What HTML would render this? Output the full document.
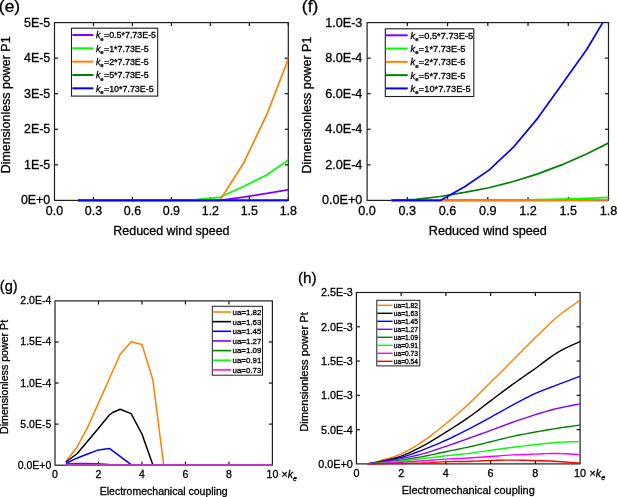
<!DOCTYPE html>
<html><head><meta charset="utf-8"><title>Figure</title>
<style>
html,body{margin:0;padding:0;background:#fff;}
body{width:617px;height:497px;overflow:hidden;font-family:"Liberation Sans", sans-serif;}
svg{display:block;will-change:transform;filter:blur(0.3px);}
</style></head><body>
<svg width="617" height="497" viewBox="0 0 617 497" font-family='"Liberation Sans", sans-serif' fill="#000"><style>text{stroke:#000;stroke-width:0.3px;}</style><defs><clipPath id="ce"><rect x="54.5" y="22.6" width="233.8" height="179.3"/></clipPath><clipPath id="cf"><rect x="367.1" y="22.6" width="241.4" height="179.3"/></clipPath><clipPath id="cg"><rect x="55" y="300.9" width="217.4" height="165.8"/></clipPath><clipPath id="ch"><rect x="356.4" y="292.5" width="223.7" height="172.9"/></clipPath></defs>
<line x1="93.47" y1="200.4" x2="93.47" y2="196.9" stroke="#111" stroke-width="1.2"/>
<line x1="93.47" y1="22.6" x2="93.47" y2="26.1" stroke="#111" stroke-width="1.2"/>
<line x1="132.43" y1="200.4" x2="132.43" y2="196.9" stroke="#111" stroke-width="1.2"/>
<line x1="132.43" y1="22.6" x2="132.43" y2="26.1" stroke="#111" stroke-width="1.2"/>
<line x1="171.4" y1="200.4" x2="171.4" y2="196.9" stroke="#111" stroke-width="1.2"/>
<line x1="171.4" y1="22.6" x2="171.4" y2="26.1" stroke="#111" stroke-width="1.2"/>
<line x1="210.37" y1="200.4" x2="210.37" y2="196.9" stroke="#111" stroke-width="1.2"/>
<line x1="210.37" y1="22.6" x2="210.37" y2="26.1" stroke="#111" stroke-width="1.2"/>
<line x1="249.33" y1="200.4" x2="249.33" y2="196.9" stroke="#111" stroke-width="1.2"/>
<line x1="249.33" y1="22.6" x2="249.33" y2="26.1" stroke="#111" stroke-width="1.2"/>
<line x1="288.3" y1="200.4" x2="288.3" y2="196.9" stroke="#111" stroke-width="1.2"/>
<line x1="288.3" y1="22.6" x2="288.3" y2="26.1" stroke="#111" stroke-width="1.2"/>
<line x1="54.5" y1="164.84" x2="58" y2="164.84" stroke="#111" stroke-width="1.2"/>
<line x1="288.3" y1="164.84" x2="284.8" y2="164.84" stroke="#111" stroke-width="1.2"/>
<line x1="54.5" y1="129.28" x2="58" y2="129.28" stroke="#111" stroke-width="1.2"/>
<line x1="288.3" y1="129.28" x2="284.8" y2="129.28" stroke="#111" stroke-width="1.2"/>
<line x1="54.5" y1="93.72" x2="58" y2="93.72" stroke="#111" stroke-width="1.2"/>
<line x1="288.3" y1="93.72" x2="284.8" y2="93.72" stroke="#111" stroke-width="1.2"/>
<line x1="54.5" y1="58.16" x2="58" y2="58.16" stroke="#111" stroke-width="1.2"/>
<line x1="288.3" y1="58.16" x2="284.8" y2="58.16" stroke="#111" stroke-width="1.2"/>
<rect x="54.5" y="22.6" width="233.8" height="177.8" fill="none" stroke="#1e1e1e" stroke-width="1.2"/>
<polyline points="78.12,200.4 101.73,200.4 125.35,200.4 148.96,200.4 172.58,200.4 196.2,200.4 219.81,200.4 243.43,197.2 267.05,193.29 290.66,189.38" fill="none" stroke="#8000ff" stroke-width="1.7" stroke-linejoin="round" clip-path="url(#ce)"/>
<polyline points="78.12,200.4 101.73,200.4 125.35,200.4 148.96,200.4 172.58,200.4 196.2,199.69 219.81,197.31 243.43,186.53 267.05,174.8 290.66,158.44" fill="none" stroke="#00ff00" stroke-width="1.7" stroke-linejoin="round" clip-path="url(#ce)"/>
<polyline points="78.12,200.4 101.73,200.4 125.35,200.4 148.96,200.4 172.58,200.4 196.2,200.4 219.81,200.4 243.43,163.42 267.05,113.99 290.66,52.83" fill="none" stroke="#ff8000" stroke-width="1.7" stroke-linejoin="round" clip-path="url(#ce)"/>
<polyline points="78.12,200.4 101.73,200.4 125.35,200.4 148.96,200.4 172.58,200.4 196.2,200.4 219.81,200.4 243.43,200.4 267.05,200.4 290.66,200.4" fill="none" stroke="#008000" stroke-width="1.7" stroke-linejoin="round" clip-path="url(#ce)"/>
<polyline points="78.12,200.4 101.73,200.4 125.35,200.4 148.96,200.4 172.58,200.4 196.2,200.4 219.81,200.4 243.43,200.4 267.05,200.4 290.66,200.4" fill="none" stroke="#0000ff" stroke-width="1.7" stroke-linejoin="round" clip-path="url(#ce)"/>
<line x1="407.33" y1="200.4" x2="407.33" y2="196.9" stroke="#111" stroke-width="1.2"/>
<line x1="407.33" y1="22.6" x2="407.33" y2="26.1" stroke="#111" stroke-width="1.2"/>
<line x1="447.57" y1="200.4" x2="447.57" y2="196.9" stroke="#111" stroke-width="1.2"/>
<line x1="447.57" y1="22.6" x2="447.57" y2="26.1" stroke="#111" stroke-width="1.2"/>
<line x1="487.8" y1="200.4" x2="487.8" y2="196.9" stroke="#111" stroke-width="1.2"/>
<line x1="487.8" y1="22.6" x2="487.8" y2="26.1" stroke="#111" stroke-width="1.2"/>
<line x1="528.03" y1="200.4" x2="528.03" y2="196.9" stroke="#111" stroke-width="1.2"/>
<line x1="528.03" y1="22.6" x2="528.03" y2="26.1" stroke="#111" stroke-width="1.2"/>
<line x1="568.27" y1="200.4" x2="568.27" y2="196.9" stroke="#111" stroke-width="1.2"/>
<line x1="568.27" y1="22.6" x2="568.27" y2="26.1" stroke="#111" stroke-width="1.2"/>
<line x1="608.5" y1="200.4" x2="608.5" y2="196.9" stroke="#111" stroke-width="1.2"/>
<line x1="608.5" y1="22.6" x2="608.5" y2="26.1" stroke="#111" stroke-width="1.2"/>
<line x1="367.1" y1="164.84" x2="370.6" y2="164.84" stroke="#111" stroke-width="1.2"/>
<line x1="608.5" y1="164.84" x2="605" y2="164.84" stroke="#111" stroke-width="1.2"/>
<line x1="367.1" y1="129.28" x2="370.6" y2="129.28" stroke="#111" stroke-width="1.2"/>
<line x1="608.5" y1="129.28" x2="605" y2="129.28" stroke="#111" stroke-width="1.2"/>
<line x1="367.1" y1="93.72" x2="370.6" y2="93.72" stroke="#111" stroke-width="1.2"/>
<line x1="608.5" y1="93.72" x2="605" y2="93.72" stroke="#111" stroke-width="1.2"/>
<line x1="367.1" y1="58.16" x2="370.6" y2="58.16" stroke="#111" stroke-width="1.2"/>
<line x1="608.5" y1="58.16" x2="605" y2="58.16" stroke="#111" stroke-width="1.2"/>
<rect x="367.1" y="22.6" width="241.4" height="177.8" fill="none" stroke="#1e1e1e" stroke-width="1.2"/>
<polyline points="391.48,200.4 415.87,200.4 440.25,200.4 464.64,200.4 489.02,200.4 513.4,200.4 537.79,200.4 562.17,200.4 586.55,200.4 610.94,200.4" fill="none" stroke="#8000ff" stroke-width="1.7" stroke-linejoin="round" clip-path="url(#cf)"/>
<polyline points="391.48,200.4 415.87,200.4 440.25,200.4 464.64,200.4 489.02,200.4 513.4,200.04 537.79,199.69 562.17,199.16 586.55,198.44 610.94,197.38" fill="none" stroke="#00ff00" stroke-width="1.7" stroke-linejoin="round" clip-path="url(#cf)"/>
<polyline points="391.48,200.4 415.87,200.4 440.25,200.4 464.64,200.4 489.02,200.4 513.4,200.4 537.79,200.31 562.17,200.22 586.55,200.04 610.94,199.87" fill="none" stroke="#ff8000" stroke-width="1.7" stroke-linejoin="round" clip-path="url(#cf)"/>
<polyline points="391.48,200.4 415.87,199.33 440.25,196.49 464.64,192.43 489.02,187.72 513.4,181.54 537.79,173.84 562.17,164.66 586.55,153.99 610.94,141.85" fill="none" stroke="#008000" stroke-width="1.7" stroke-linejoin="round" clip-path="url(#cf)"/>
<polyline points="391.48,200.4 415.87,200.4 440.25,200.4 464.64,186.71 489.02,170.17 513.4,147.24 537.79,118.08 562.17,83.94 586.55,49.8 610.94,8.91" fill="none" stroke="#0000ff" stroke-width="1.7" stroke-linejoin="round" clip-path="url(#cf)"/>
<line x1="98.48" y1="465.2" x2="98.48" y2="461.7" stroke="#111" stroke-width="1.2"/>
<line x1="98.48" y1="300.9" x2="98.48" y2="304.4" stroke="#111" stroke-width="1.2"/>
<line x1="141.96" y1="465.2" x2="141.96" y2="461.7" stroke="#111" stroke-width="1.2"/>
<line x1="141.96" y1="300.9" x2="141.96" y2="304.4" stroke="#111" stroke-width="1.2"/>
<line x1="185.44" y1="465.2" x2="185.44" y2="461.7" stroke="#111" stroke-width="1.2"/>
<line x1="185.44" y1="300.9" x2="185.44" y2="304.4" stroke="#111" stroke-width="1.2"/>
<line x1="228.92" y1="465.2" x2="228.92" y2="461.7" stroke="#111" stroke-width="1.2"/>
<line x1="228.92" y1="300.9" x2="228.92" y2="304.4" stroke="#111" stroke-width="1.2"/>
<line x1="55" y1="424.12" x2="58.5" y2="424.12" stroke="#111" stroke-width="1.2"/>
<line x1="272.4" y1="424.12" x2="268.9" y2="424.12" stroke="#111" stroke-width="1.2"/>
<line x1="55" y1="383.05" x2="58.5" y2="383.05" stroke="#111" stroke-width="1.2"/>
<line x1="272.4" y1="383.05" x2="268.9" y2="383.05" stroke="#111" stroke-width="1.2"/>
<line x1="55" y1="341.97" x2="58.5" y2="341.97" stroke="#111" stroke-width="1.2"/>
<line x1="272.4" y1="341.97" x2="268.9" y2="341.97" stroke="#111" stroke-width="1.2"/>
<rect x="55" y="300.9" width="217.4" height="164.3" fill="none" stroke="#1e1e1e" stroke-width="1.2"/>
<polyline points="65.87,461.7 76.74,447.5 87.61,427.4 120.22,354.3 131.09,341.8 141.96,344.5 152.83,379.8 163.7,465.1 272.4,465.2" fill="none" stroke="#ff8000" stroke-width="1.5" stroke-linejoin="round" clip-path="url(#cg)"/>
<polyline points="65.87,462 76.74,454 87.61,441.2 98.48,428.3 109.35,415 112.61,412.5 120.22,409.3 131.09,413.6 141.96,434 152.83,464.7 163.7,465.1 272.4,465.2" fill="none" stroke="#000" stroke-width="1.5" stroke-linejoin="round" clip-path="url(#cg)"/>
<polyline points="65.87,463.5 76.74,458.2 87.61,454 98.48,449.9 109.35,448.4 131.09,464.7 141.96,465.1 272.4,465.2" fill="none" stroke="#0000ff" stroke-width="1.5" stroke-linejoin="round" clip-path="url(#cg)"/>
<polyline points="65.87,464 76.74,463.5 87.61,463.4 98.48,463.8 109.35,464.6 120.22,465.1 272.4,465.2" fill="none" stroke="#8000ff" stroke-width="1.5" stroke-linejoin="round" clip-path="url(#cg)"/>
<polyline points="65.87,464.9 272.4,464.9" fill="none" stroke="#008000" stroke-width="1.5" stroke-linejoin="round" clip-path="url(#cg)"/>
<polyline points="65.87,464.9 272.4,464.9" fill="none" stroke="#00ff00" stroke-width="1.5" stroke-linejoin="round" clip-path="url(#cg)"/>
<polyline points="65.87,464.9 272.4,464.9" fill="none" stroke="#ff00ff" stroke-width="1.5" stroke-linejoin="round" clip-path="url(#cg)"/>
<line x1="401.14" y1="463.9" x2="401.14" y2="460.4" stroke="#111" stroke-width="1.2"/>
<line x1="401.14" y1="292.5" x2="401.14" y2="296" stroke="#111" stroke-width="1.2"/>
<line x1="445.88" y1="463.9" x2="445.88" y2="460.4" stroke="#111" stroke-width="1.2"/>
<line x1="445.88" y1="292.5" x2="445.88" y2="296" stroke="#111" stroke-width="1.2"/>
<line x1="490.62" y1="463.9" x2="490.62" y2="460.4" stroke="#111" stroke-width="1.2"/>
<line x1="490.62" y1="292.5" x2="490.62" y2="296" stroke="#111" stroke-width="1.2"/>
<line x1="535.36" y1="463.9" x2="535.36" y2="460.4" stroke="#111" stroke-width="1.2"/>
<line x1="535.36" y1="292.5" x2="535.36" y2="296" stroke="#111" stroke-width="1.2"/>
<line x1="356.4" y1="429.62" x2="359.9" y2="429.62" stroke="#111" stroke-width="1.2"/>
<line x1="580.1" y1="429.62" x2="576.6" y2="429.62" stroke="#111" stroke-width="1.2"/>
<line x1="356.4" y1="395.34" x2="359.9" y2="395.34" stroke="#111" stroke-width="1.2"/>
<line x1="580.1" y1="395.34" x2="576.6" y2="395.34" stroke="#111" stroke-width="1.2"/>
<line x1="356.4" y1="361.06" x2="359.9" y2="361.06" stroke="#111" stroke-width="1.2"/>
<line x1="580.1" y1="361.06" x2="576.6" y2="361.06" stroke="#111" stroke-width="1.2"/>
<line x1="356.4" y1="326.78" x2="359.9" y2="326.78" stroke="#111" stroke-width="1.2"/>
<line x1="580.1" y1="326.78" x2="576.6" y2="326.78" stroke="#111" stroke-width="1.2"/>
<rect x="356.4" y="292.5" width="223.7" height="171.4" fill="none" stroke="#1e1e1e" stroke-width="1.2"/>
<polyline points="367.58,463.9 368.67,463.65 370.07,463.36 371.78,462.98 373.8,462.51 376.13,461.91 378.77,461.16 381.85,460.27 385.4,459.28 389.26,458.16 393.27,456.9 397.28,455.48 401.14,453.89 404.87,452.11 408.6,450.15 412.32,448.03 416.05,445.78 419.78,443.4 423.51,440.93 427.24,438.34 430.97,435.59 434.69,432.74 438.42,429.79 442.15,426.77 445.88,423.72 449.61,420.64 453.34,417.49 457.06,414.28 460.79,411.01 464.52,407.67 468.25,404.25 471.98,400.74 475.71,397.14 479.44,393.46 483.16,389.74 486.89,386.02 490.62,382.31 494.35,378.62 498.08,374.92 501.81,371.21 505.53,367.49 509.26,363.76 512.99,360.03 516.72,356.28 520.45,352.5 524.17,348.71 527.9,344.94 531.63,341.21 535.36,337.54 539.09,333.9 542.82,330.25 546.55,326.63 550.27,323.11 554,319.71 557.73,316.5 561.72,313.31 566.02,310.1 570.31,307.02 574.3,304.23 577.67,301.9 580.1,300.18" fill="none" stroke="#ff8000" stroke-width="1.4" stroke-linejoin="round" clip-path="url(#ch)"/>
<polyline points="367.58,463.9 368.67,463.72 370.07,463.5 371.78,463.23 373.8,462.88 376.13,462.42 378.77,461.84 381.85,461.15 385.4,460.37 389.26,459.49 393.27,458.49 397.28,457.36 401.14,456.08 404.87,454.64 408.6,453.05 412.32,451.32 416.05,449.48 419.78,447.57 423.51,445.59 427.24,443.54 430.97,441.37 434.69,439.13 438.42,436.83 442.15,434.49 445.88,432.16 449.61,429.82 453.34,427.48 457.06,425.1 460.79,422.68 464.52,420.19 468.25,417.62 471.98,414.95 475.71,412.19 479.44,409.36 483.16,406.5 486.89,403.64 490.62,400.82 494.35,398.03 498.08,395.23 501.81,392.43 505.53,389.64 509.26,386.88 512.99,384.16 516.72,381.5 520.45,378.88 524.17,376.28 527.9,373.69 531.63,371.09 535.36,368.46 539.09,365.74 542.82,362.93 546.55,360.1 550.27,357.34 554,354.73 557.73,352.35 561.72,350.12 566.02,347.97 570.31,345.96 574.3,344.18 577.67,342.7 580.1,341.59" fill="none" stroke="#000" stroke-width="1.4" stroke-linejoin="round" clip-path="url(#ch)"/>
<polyline points="367.58,463.9 368.67,463.75 370.07,463.56 371.78,463.33 373.8,463.04 376.13,462.66 378.77,462.19 381.85,461.62 385.4,460.97 389.26,460.24 393.27,459.43 397.28,458.52 401.14,457.52 404.87,456.41 408.6,455.19 412.32,453.88 416.05,452.5 419.78,451.08 423.51,449.64 427.24,448.18 430.97,446.68 434.69,445.14 438.42,443.55 442.15,441.92 445.88,440.25 449.61,438.52 453.34,436.75 457.06,434.92 460.79,433.07 464.52,431.18 468.25,429.28 471.98,427.34 475.71,425.37 479.44,423.36 483.16,421.34 486.89,419.31 490.62,417.28 494.35,415.23 498.08,413.16 501.81,411.08 505.53,409 509.26,406.95 512.99,404.94 516.72,402.94 520.45,400.93 524.17,398.95 527.9,397.02 531.63,395.17 535.36,393.42 539.09,391.8 542.82,390.3 546.55,388.87 550.27,387.49 554,386.12 557.73,384.71 561.72,383.19 566.02,381.57 570.31,379.95 574.3,378.46 577.67,377.19 580.1,376.28" fill="none" stroke="#0000ff" stroke-width="1.4" stroke-linejoin="round" clip-path="url(#ch)"/>
<polyline points="367.58,463.9 368.67,463.78 370.07,463.64 371.78,463.46 373.8,463.22 376.13,462.92 378.77,462.53 381.85,462.04 385.4,461.45 389.26,460.8 393.27,460.1 397.28,459.37 401.14,458.62 404.87,457.88 408.6,457.12 412.32,456.32 416.05,455.49 419.78,454.59 423.51,453.62 427.24,452.55 430.97,451.4 434.69,450.2 438.42,448.95 442.15,447.68 445.88,446.42 449.61,445.15 453.34,443.85 457.06,442.53 460.79,441.2 464.52,439.87 468.25,438.53 471.98,437.2 475.71,435.86 479.44,434.51 483.16,433.16 486.89,431.81 490.62,430.44 494.35,429.06 498.08,427.66 501.81,426.26 505.53,424.86 509.26,423.48 512.99,422.15 516.72,420.84 520.45,419.55 524.17,418.29 527.9,417.05 531.63,415.84 535.36,414.67 539.09,413.53 542.82,412.42 546.55,411.33 550.27,410.29 554,409.3 557.73,408.37 561.72,407.46 566.02,406.58 570.31,405.74 574.3,405 577.67,404.37 580.1,403.91" fill="none" stroke="#8000ff" stroke-width="1.4" stroke-linejoin="round" clip-path="url(#ch)"/>
<polyline points="367.58,463.9 368.67,463.81 370.07,463.7 371.78,463.56 373.8,463.38 376.13,463.15 378.77,462.87 381.85,462.52 385.4,462.12 389.26,461.67 393.27,461.18 397.28,460.66 401.14,460.13 404.87,459.58 408.6,459 412.32,458.4 416.05,457.77 419.78,457.11 423.51,456.43 427.24,455.7 430.97,454.92 434.69,454.12 438.42,453.3 442.15,452.49 445.88,451.7 449.61,450.93 453.34,450.18 457.06,449.44 460.79,448.68 464.52,447.91 468.25,447.1 471.98,446.26 475.71,445.38 479.44,444.48 483.16,443.57 486.89,442.66 490.62,441.76 494.35,440.84 498.08,439.91 501.81,438.98 505.53,438.07 509.26,437.18 512.99,436.34 516.72,435.55 520.45,434.8 524.17,434.08 527.9,433.38 531.63,432.7 535.36,432.02 539.09,431.35 542.82,430.7 546.55,430.06 550.27,429.44 554,428.84 557.73,428.25 561.72,427.65 566.02,427.04 570.31,426.44 574.3,425.89 577.67,425.43 580.1,425.1" fill="none" stroke="#008000" stroke-width="1.4" stroke-linejoin="round" clip-path="url(#ch)"/>
<polyline points="367.58,463.9 368.67,463.84 370.07,463.78 371.78,463.69 373.8,463.58 376.13,463.42 378.77,463.21 381.85,462.94 385.4,462.6 389.26,462.22 393.27,461.82 397.28,461.42 401.14,461.02 404.87,460.64 408.6,460.25 412.32,459.86 416.05,459.46 419.78,459.05 423.51,458.62 427.24,458.17 430.97,457.7 434.69,457.22 438.42,456.73 442.15,456.26 445.88,455.81 449.61,455.39 453.34,455 457.06,454.63 460.79,454.25 464.52,453.85 468.25,453.41 471.98,452.94 475.71,452.43 479.44,451.91 483.16,451.38 486.89,450.85 490.62,450.33 494.35,449.81 498.08,449.28 501.81,448.75 505.53,448.23 509.26,447.73 512.99,447.24 516.72,446.77 520.45,446.33 524.17,445.89 527.9,445.46 531.63,445.05 535.36,444.63 539.09,444.21 542.82,443.78 546.55,443.35 550.27,442.95 554,442.59 557.73,442.3 561.72,442.09 566.02,441.93 570.31,441.82 574.3,441.73 577.67,441.67 580.1,441.62" fill="none" stroke="#00ff00" stroke-width="1.4" stroke-linejoin="round" clip-path="url(#ch)"/>
<polyline points="367.58,463.9 368.67,463.87 370.07,463.83 371.78,463.78 373.8,463.71 376.13,463.61 378.77,463.49 381.85,463.32 385.4,463.12 389.26,462.9 393.27,462.66 397.28,462.42 401.14,462.19 404.87,461.97 408.6,461.75 412.32,461.53 416.05,461.3 419.78,461.06 423.51,460.81 427.24,460.54 430.97,460.25 434.69,459.94 438.42,459.64 442.15,459.35 445.88,459.1 449.61,458.89 453.34,458.7 457.06,458.54 460.79,458.38 464.52,458.2 468.25,458 471.98,457.78 475.71,457.53 479.44,457.28 483.16,457.02 486.89,456.76 490.62,456.5 494.35,456.23 498.08,455.95 501.81,455.66 505.53,455.39 509.26,455.14 512.99,454.92 516.72,454.74 520.45,454.58 524.17,454.45 527.9,454.33 531.63,454.21 535.36,454.1 539.09,453.96 542.82,453.81 546.55,453.66 550.27,453.54 554,453.47 557.73,453.48 561.72,453.59 566.02,453.8 570.31,454.06 574.3,454.32 577.67,454.56 580.1,454.71" fill="none" stroke="#ff00ff" stroke-width="1.4" stroke-linejoin="round" clip-path="url(#ch)"/>
<polyline points="367.58,463.9 368.67,463.89 370.07,463.87 371.78,463.85 373.8,463.82 376.13,463.8 378.77,463.76 381.85,463.73 385.4,463.69 389.26,463.65 393.27,463.6 397.28,463.55 401.14,463.49 404.87,463.43 408.6,463.37 412.32,463.31 416.05,463.24 419.78,463.14 423.51,463.01 427.24,462.83 430.97,462.6 434.69,462.34 438.42,462.09 442.15,461.87 445.88,461.71 449.61,461.61 453.34,461.56 457.06,461.55 460.79,461.54 464.52,461.51 468.25,461.43 471.98,461.3 475.71,461.14 479.44,460.96 483.16,460.77 486.89,460.6 490.62,460.47 494.35,460.37 498.08,460.28 501.81,460.21 505.53,460.16 509.26,460.13 512.99,460.13 516.72,460.16 520.45,460.22 524.17,460.3 527.9,460.39 531.63,460.5 535.36,460.61 539.09,460.72 542.82,460.82 546.55,460.94 550.27,461.07 554,461.24 557.73,461.43 561.72,461.69 566.02,462.02 570.31,462.37 574.3,462.72 577.67,463.01 580.1,463.21" fill="none" stroke="#ff0000" stroke-width="1.4" stroke-linejoin="round" clip-path="url(#ch)"/>
<text x="-1.1" y="12.4" font-size="16.6" text-anchor="start" transform="scale(1.05,1)">(e)</text>
<text x="287.5" y="12.4" font-size="16.6" text-anchor="start" transform="scale(1.05,1)">(f)</text>
<text x="-0.2" y="291.1" font-size="14.6" text-anchor="start">(g)</text>
<text x="298" y="283.2" font-size="15.3" text-anchor="start">(h)</text>
<text x="50.3" y="204.4" font-size="12.45" text-anchor="end">0E+0</text>
<text x="50.3" y="168.84" font-size="12.45" text-anchor="end">1E-5</text>
<text x="50.3" y="133.28" font-size="12.45" text-anchor="end">2E-5</text>
<text x="50.3" y="97.72" font-size="12.45" text-anchor="end">3E-5</text>
<text x="50.3" y="62.16" font-size="12.45" text-anchor="end">4E-5</text>
<text x="50.3" y="26.6" font-size="12.45" text-anchor="end">5E-5</text>
<text x="54.5" y="214.7" font-size="12.45" text-anchor="middle">0.0</text>
<text x="93.47" y="214.7" font-size="12.45" text-anchor="middle">0.3</text>
<text x="132.43" y="214.7" font-size="12.45" text-anchor="middle">0.6</text>
<text x="171.4" y="214.7" font-size="12.45" text-anchor="middle">0.9</text>
<text x="210.37" y="214.7" font-size="12.45" text-anchor="middle">1.2</text>
<text x="249.33" y="214.7" font-size="12.45" text-anchor="middle">1.5</text>
<text x="288.3" y="214.7" font-size="12.45" text-anchor="middle">1.8</text>
<text x="171.4" y="235" font-size="12.45" text-anchor="middle">Reduced wind speed</text>
<text x="10.3" y="104.9" font-size="12.45" text-anchor="middle" transform="rotate(-90 10.3 104.9)">Dimensionless power P1</text>
<text x="362.4" y="204.3" font-size="12.65" text-anchor="end">0.0E+0</text>
<text x="362.4" y="168.74" font-size="12.65" text-anchor="end">2.0E-4</text>
<text x="362.4" y="133.18" font-size="12.65" text-anchor="end">4.0E-4</text>
<text x="362.4" y="97.62" font-size="12.65" text-anchor="end">6.0E-4</text>
<text x="362.4" y="62.06" font-size="12.65" text-anchor="end">8.0E-4</text>
<text x="362.4" y="26.5" font-size="12.65" text-anchor="end">1.0E-3</text>
<text x="367.1" y="214.7" font-size="12.65" text-anchor="middle">0.0</text>
<text x="407.33" y="214.7" font-size="12.65" text-anchor="middle">0.3</text>
<text x="447.57" y="214.7" font-size="12.65" text-anchor="middle">0.6</text>
<text x="487.8" y="214.7" font-size="12.65" text-anchor="middle">0.9</text>
<text x="528.03" y="214.7" font-size="12.65" text-anchor="middle">1.2</text>
<text x="568.27" y="214.7" font-size="12.65" text-anchor="middle">1.5</text>
<text x="608.5" y="214.7" font-size="12.65" text-anchor="middle">1.8</text>
<text x="487.8" y="235" font-size="12.65" text-anchor="middle">Reduced wind speed</text>
<text x="310.7" y="105.1" font-size="12.45" text-anchor="middle" transform="rotate(-90 310.7 105.1)">Dimensionless power P1</text>
<text x="51.3" y="468.65" font-size="10.5" text-anchor="end">0.0E+0</text>
<text x="51.3" y="427.57" font-size="10.5" text-anchor="end">5.0E-5</text>
<text x="51.3" y="386.5" font-size="10.5" text-anchor="end">1.0E-4</text>
<text x="51.3" y="345.42" font-size="10.5" text-anchor="end">1.5E-4</text>
<text x="51.3" y="304.35" font-size="10.5" text-anchor="end">2.0E-4</text>
<text x="55" y="477.6" font-size="10.5" text-anchor="middle">0</text>
<text x="98.48" y="477.6" font-size="10.5" text-anchor="middle">2</text>
<text x="141.96" y="477.6" font-size="10.5" text-anchor="middle">4</text>
<text x="185.44" y="477.6" font-size="10.5" text-anchor="middle">6</text>
<text x="228.92" y="477.6" font-size="10.5" text-anchor="middle">8</text>
<text x="272.4" y="477.6" font-size="10.5" text-anchor="middle">10</text>
<text x="281.5" y="477.6" font-size="10.5" text-anchor="start">&#215;<tspan font-style="italic">k</tspan><tspan font-style="italic" font-size="7" dy="3.3">e</tspan></text>
<text x="163.7" y="494.5" font-size="10.5" text-anchor="middle">Electromechanical coupling</text>
<text x="8.1" y="376.9" font-size="10.65" text-anchor="middle" transform="rotate(-90 8.1 376.9)">Dimensionless power Pt</text>
<text x="352.8" y="467.8" font-size="10.8" text-anchor="end">0.0E+0</text>
<text x="352.8" y="433.52" font-size="10.8" text-anchor="end">5.0E-4</text>
<text x="352.8" y="399.24" font-size="10.8" text-anchor="end">1.0E-3</text>
<text x="352.8" y="364.96" font-size="10.8" text-anchor="end">1.5E-3</text>
<text x="352.8" y="330.68" font-size="10.8" text-anchor="end">2.0E-3</text>
<text x="352.8" y="296.4" font-size="10.8" text-anchor="end">2.5E-3</text>
<text x="356.4" y="477" font-size="10.8" text-anchor="middle">0</text>
<text x="401.14" y="477" font-size="10.8" text-anchor="middle">2</text>
<text x="445.88" y="477" font-size="10.8" text-anchor="middle">4</text>
<text x="490.62" y="477" font-size="10.8" text-anchor="middle">6</text>
<text x="535.36" y="477" font-size="10.8" text-anchor="middle">8</text>
<text x="580.1" y="477" font-size="10.8" text-anchor="middle">10</text>
<text x="589.5" y="477" font-size="10.8" text-anchor="start">&#215;<tspan font-style="italic">k</tspan><tspan font-style="italic" font-size="7" dy="3.3">e</tspan></text>
<text x="468.25" y="494.2" font-size="10.93" text-anchor="middle">Electromechanical coupling</text>
<text x="308" y="372" font-size="11.15" text-anchor="middle" transform="rotate(-90 308 372)">Dimensionless power Pt</text>
<rect x="71.5" y="28.2" width="86.2" height="67.9" fill="#fff" stroke="#1e1e1e" stroke-width="1.1"/>
<line x1="72.3" y1="35" x2="93.4" y2="35" stroke="#8000ff" stroke-width="2"/>
<text x="95.5" y="38.45" font-size="8.9" text-anchor="start"><tspan font-style="italic" dx="0.4">k</tspan><tspan font-size="6" dy="2.3">e</tspan><tspan dy="-2.3" dx="0.3">=0.5*7.73E-5</tspan></text>
<line x1="72.3" y1="48.33" x2="93.4" y2="48.33" stroke="#00ff00" stroke-width="2"/>
<text x="95.5" y="51.78" font-size="8.9" text-anchor="start"><tspan font-style="italic" dx="0.4">k</tspan><tspan font-size="6" dy="2.3">e</tspan><tspan dy="-2.3" dx="0.3">=1*7.73E-5</tspan></text>
<line x1="72.3" y1="61.66" x2="93.4" y2="61.66" stroke="#ff8000" stroke-width="2"/>
<text x="95.5" y="65.11" font-size="8.9" text-anchor="start"><tspan font-style="italic" dx="0.4">k</tspan><tspan font-size="6" dy="2.3">e</tspan><tspan dy="-2.3" dx="0.3">=2*7.73E-5</tspan></text>
<line x1="72.3" y1="74.99" x2="93.4" y2="74.99" stroke="#008000" stroke-width="2"/>
<text x="95.5" y="78.44" font-size="8.9" text-anchor="start"><tspan font-style="italic" dx="0.4">k</tspan><tspan font-size="6" dy="2.3">e</tspan><tspan dy="-2.3" dx="0.3">=5*7.73E-5</tspan></text>
<line x1="72.3" y1="88.32" x2="93.4" y2="88.32" stroke="#0000ff" stroke-width="2"/>
<text x="95.5" y="91.77" font-size="8.9" text-anchor="start"><tspan font-style="italic" dx="0.4">k</tspan><tspan font-size="6" dy="2.3">e</tspan><tspan dy="-2.3" dx="0.3">=10*7.73E-5</tspan></text>
<rect x="385.3" y="28.8" width="88.5" height="67.7" fill="#fff" stroke="#1e1e1e" stroke-width="1.1"/>
<line x1="385.8" y1="35.3" x2="407.7" y2="35.3" stroke="#8000ff" stroke-width="2"/>
<text x="410.2" y="38.75" font-size="9.25" text-anchor="start"><tspan font-style="italic" dx="0.4">k</tspan><tspan font-size="6" dy="2.3">e</tspan><tspan dy="-2.3" dx="0.3">=0.5*7.73E-5</tspan></text>
<line x1="385.8" y1="48.58" x2="407.7" y2="48.58" stroke="#00ff00" stroke-width="2"/>
<text x="410.2" y="52.03" font-size="9.25" text-anchor="start"><tspan font-style="italic" dx="0.4">k</tspan><tspan font-size="6" dy="2.3">e</tspan><tspan dy="-2.3" dx="0.3">=1*7.73E-5</tspan></text>
<line x1="385.8" y1="61.86" x2="407.7" y2="61.86" stroke="#ff8000" stroke-width="2"/>
<text x="410.2" y="65.31" font-size="9.25" text-anchor="start"><tspan font-style="italic" dx="0.4">k</tspan><tspan font-size="6" dy="2.3">e</tspan><tspan dy="-2.3" dx="0.3">=2*7.73E-5</tspan></text>
<line x1="385.8" y1="75.14" x2="407.7" y2="75.14" stroke="#008000" stroke-width="2"/>
<text x="410.2" y="78.59" font-size="9.25" text-anchor="start"><tspan font-style="italic" dx="0.4">k</tspan><tspan font-size="6" dy="2.3">e</tspan><tspan dy="-2.3" dx="0.3">=5*7.73E-5</tspan></text>
<line x1="385.8" y1="88.42" x2="407.7" y2="88.42" stroke="#0000ff" stroke-width="2"/>
<text x="410.2" y="91.87" font-size="9.25" text-anchor="start"><tspan font-style="italic" dx="0.4">k</tspan><tspan font-size="6" dy="2.3">e</tspan><tspan dy="-2.3" dx="0.3">=10*7.73E-5</tspan></text>
<rect x="212.3" y="306.3" width="50.2" height="68.9" fill="#fff" stroke="#1e1e1e" stroke-width="1"/>
<line x1="212.7" y1="312" x2="231" y2="312" stroke="#ff8000" stroke-width="1.6"/>
<text x="232.5" y="314.86" font-size="7.95" text-anchor="start">ua=1.82</text>
<line x1="212.7" y1="321.65" x2="231" y2="321.65" stroke="#000" stroke-width="1.6"/>
<text x="232.5" y="324.51" font-size="7.95" text-anchor="start">ua=1.63</text>
<line x1="212.7" y1="331.3" x2="231" y2="331.3" stroke="#0000ff" stroke-width="1.6"/>
<text x="232.5" y="334.16" font-size="7.95" text-anchor="start">ua=1.45</text>
<line x1="212.7" y1="340.95" x2="231" y2="340.95" stroke="#8000ff" stroke-width="1.6"/>
<text x="232.5" y="343.81" font-size="7.95" text-anchor="start">ua=1.27</text>
<line x1="212.7" y1="350.6" x2="231" y2="350.6" stroke="#008000" stroke-width="1.6"/>
<text x="232.5" y="353.46" font-size="7.95" text-anchor="start">ua=1.09</text>
<line x1="212.7" y1="360.25" x2="231" y2="360.25" stroke="#00ff00" stroke-width="1.6"/>
<text x="232.5" y="363.11" font-size="7.95" text-anchor="start">ua=0.91</text>
<line x1="212.7" y1="369.9" x2="231" y2="369.9" stroke="#ff00ff" stroke-width="1.6"/>
<text x="232.5" y="372.76" font-size="7.95" text-anchor="start">ua=0.73</text>
<rect x="376.8" y="300.3" width="43" height="65.6" fill="#fff" stroke="#1e1e1e" stroke-width="1"/>
<line x1="377.2" y1="305.3" x2="392.6" y2="305.3" stroke="#ff8000" stroke-width="1.4"/>
<text x="393.8" y="307.69" font-size="6.65" text-anchor="start">ua=1.82</text>
<line x1="377.2" y1="313.3" x2="392.6" y2="313.3" stroke="#000" stroke-width="1.4"/>
<text x="393.8" y="315.69" font-size="6.65" text-anchor="start">ua=1.63</text>
<line x1="377.2" y1="321.3" x2="392.6" y2="321.3" stroke="#0000ff" stroke-width="1.4"/>
<text x="393.8" y="323.69" font-size="6.65" text-anchor="start">ua=1.45</text>
<line x1="377.2" y1="329.3" x2="392.6" y2="329.3" stroke="#8000ff" stroke-width="1.4"/>
<text x="393.8" y="331.69" font-size="6.65" text-anchor="start">ua=1.27</text>
<line x1="377.2" y1="337.3" x2="392.6" y2="337.3" stroke="#008000" stroke-width="1.4"/>
<text x="393.8" y="339.69" font-size="6.65" text-anchor="start">ua=1.09</text>
<line x1="377.2" y1="345.3" x2="392.6" y2="345.3" stroke="#00ff00" stroke-width="1.4"/>
<text x="393.8" y="347.69" font-size="6.65" text-anchor="start">ua=0.91</text>
<line x1="377.2" y1="353.3" x2="392.6" y2="353.3" stroke="#ff00ff" stroke-width="1.4"/>
<text x="393.8" y="355.69" font-size="6.65" text-anchor="start">ua=0.73</text>
<line x1="377.2" y1="361.3" x2="392.6" y2="361.3" stroke="#ff0000" stroke-width="1.4"/>
<text x="393.8" y="363.69" font-size="6.65" text-anchor="start">ua=0.54</text>
</svg>
</body></html>
